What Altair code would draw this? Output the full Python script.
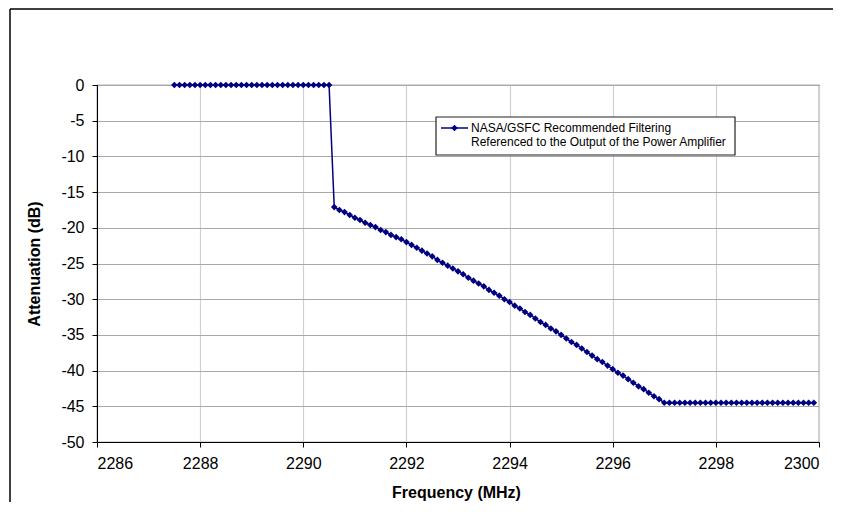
import altair as alt
import pandas as pd

# ---------------- data ----------------
FREQ_MHZ = [
    2287.5, 2287.6, 2287.7, 2287.8, 2287.9,
    2288.0, 2288.1, 2288.2, 2288.3, 2288.4, 2288.5, 2288.6, 2288.7, 2288.8, 2288.9,
    2289.0, 2289.1, 2289.2, 2289.3, 2289.4, 2289.5, 2289.6, 2289.7, 2289.8, 2289.9,
    2290.0, 2290.1, 2290.2, 2290.3, 2290.4, 2290.5, 2290.6, 2290.7, 2290.8, 2290.9,
    2291.0, 2291.1, 2291.2, 2291.3, 2291.4, 2291.5, 2291.6, 2291.7, 2291.8, 2291.9,
    2292.0, 2292.1, 2292.2, 2292.3, 2292.4, 2292.5, 2292.6, 2292.7, 2292.8, 2292.9,
    2293.0, 2293.1, 2293.2, 2293.3, 2293.4, 2293.5, 2293.6, 2293.7, 2293.8, 2293.9,
    2294.0, 2294.1, 2294.2, 2294.3, 2294.4, 2294.5, 2294.6, 2294.7, 2294.8, 2294.9,
    2295.0, 2295.1, 2295.2, 2295.3, 2295.4, 2295.5, 2295.6, 2295.7, 2295.8, 2295.9,
    2296.0, 2296.1, 2296.2, 2296.3, 2296.4, 2296.5, 2296.6, 2296.7, 2296.8, 2296.9,
    2297.0, 2297.1, 2297.2, 2297.3, 2297.4, 2297.5, 2297.6, 2297.7, 2297.8, 2297.9,
    2298.0, 2298.1, 2298.2, 2298.3, 2298.4, 2298.5, 2298.6, 2298.7, 2298.8, 2298.9,
    2299.0, 2299.1, 2299.2, 2299.3, 2299.4, 2299.5, 2299.6, 2299.7, 2299.8, 2299.9,
]

ATTENUATION_DB = [
    0.0, 0.0, 0.0, 0.0, 0.0,
    0.0, 0.0, 0.0, 0.0, 0.0, 0.0, 0.0, 0.0, 0.0, 0.0,
    0.0, 0.0, 0.0, 0.0, 0.0, 0.0, 0.0, 0.0, 0.0, 0.0,
    0.0, 0.0, 0.0, 0.0, 0.0, 0.0, -17.1, -17.5, -17.8, -18.2,
    -18.6, -18.9, -19.3, -19.6, -19.9, -20.3, -20.6, -21.0, -21.3, -21.6,
    -22.0, -22.4, -22.8, -23.2, -23.6, -24.0, -24.5, -24.9, -25.3, -25.7,
    -26.1, -26.5, -27.0, -27.4, -27.8, -28.2, -28.7, -29.1, -29.5, -30.0,
    -30.4, -30.9, -31.3, -31.8, -32.2, -32.7, -33.2, -33.6, -34.1, -34.5,
    -35.0, -35.5, -36.0, -36.4, -36.9, -37.4, -37.9, -38.4, -38.8, -39.3,
    -39.8, -40.3, -40.7, -41.2, -41.7, -42.2, -42.6, -43.1, -43.6, -44.0,
    -44.5, -44.5, -44.5, -44.5, -44.5, -44.5, -44.5, -44.5, -44.5, -44.5,
    -44.5, -44.5, -44.5, -44.5, -44.5, -44.5, -44.5, -44.5, -44.5, -44.5,
    -44.5, -44.5, -44.5, -44.5, -44.5, -44.5, -44.5, -44.5, -44.5, -44.5,
]

X_TICKS = [2286, 2288, 2290, 2292, 2294, 2296, 2298, 2300]
Y_TICKS = [-50, -45, -40, -35, -30, -25, -20, -15, -10, -5, 0]
X_DOMAIN = [2286, 2300]
Y_DOMAIN = [-50, 0]

X_TITLE = "Frequency (MHz)"
Y_TITLE = "Attenuation (dB)"
LEGEND_LINES = [
    "NASA/GSFC Recommended Filtering",
    "Referenced to the Output of the Power Amplifier",
]

assert len(FREQ_MHZ) == len(ATTENUATION_DB)

df = pd.DataFrame({"freq": FREQ_MHZ, "att": ATTENUATION_DB})
one = pd.DataFrame({"k": [0]})

FONT = "Liberation Sans"
NAVY = "#000080"

W, H = 722, 357

x_enc = alt.X(
    "freq:Q",
    scale=alt.Scale(domain=X_DOMAIN, nice=False, zero=False),
    axis=alt.Axis(
        values=X_TICKS,
        labelExpr="'' + datum.value",
        title=X_TITLE,
        grid=True,
        gridColor="#d0d0d0",
        gridWidth=1.2,
        domainColor="black",
        tickColor="black",
        tickSize=5,
        labelPadding=8,
        labelFontSize=16,
        labelOverlap=False,
        titleFontSize=16,
        titleFontWeight="bold",
        titleX=359,
        titleY=50,
        titleAlign="center",
        titleBaseline="middle",
    ),
)
y_enc = alt.Y(
    "att:Q",
    scale=alt.Scale(domain=Y_DOMAIN, nice=False, zero=False),
    axis=alt.Axis(
        values=Y_TICKS,
        labelExpr="'' + datum.value",
        title=Y_TITLE,
        grid=True,
        gridColor="#a8a8a8",
        gridWidth=1.2,
        domainColor="black",
        tickColor="black",
        tickSize=5,
        labelPadding=8,
        labelFontSize=16,
        labelOverlap=False,
        titleFontSize=16,
        titleFontWeight="bold",
        titleAngle=270,
        titleX=-63,
        titleY=H / 2,
        titleAlign="center",
        titleBaseline="middle",
    ),
)

line = alt.Chart(df).mark_line(color=NAVY, strokeWidth=1.5).encode(x=x_enc, y=y_enc)
pts = alt.Chart(df).mark_point(
    shape="diamond", filled=True, size=44, color=NAVY, opacity=1
).encode(x=x_enc, y=y_enc)

# outer chart border (top and left edges visible in the reference)
frame_top = alt.Chart(one).mark_rule(color="black", strokeWidth=1.5).encode(
    x=alt.value(-87), x2=alt.value(800), y=alt.value(-76)
)
frame_left = alt.Chart(one).mark_rule(color="black", strokeWidth=1.5).encode(
    x=alt.value(-87), y=alt.value(-76), y2=alt.value(520)
)

# legend box
leg_box = alt.Chart(one).mark_rect(
    fill="white", stroke="#222222", strokeWidth=1.2
).encode(
    x=alt.value(339), x2=alt.value(638), y=alt.value(32), y2=alt.value(70)
)
leg_rule = alt.Chart(one).mark_rule(color=NAVY, strokeWidth=1.5).encode(
    x=alt.value(344), x2=alt.value(371), y=alt.value(43)
)
leg_pt = alt.Chart(one).mark_point(
    shape="diamond", filled=True, size=44, color=NAVY, opacity=1
).encode(x=alt.value(357.5), y=alt.value(43))
leg_t1 = alt.Chart(one).mark_text(
    text=LEGEND_LINES[0], align="left", baseline="middle", font=FONT,
    fontSize=12, color="black"
).encode(x=alt.value(374), y=alt.value(43))
leg_t2 = alt.Chart(one).mark_text(
    text=LEGEND_LINES[1], align="left", baseline="middle", font=FONT,
    fontSize=12, color="black"
).encode(x=alt.value(374), y=alt.value(57))

chart = (
    alt.layer(line, pts, frame_top, frame_left, leg_box, leg_rule, leg_pt, leg_t1, leg_t2)
    .properties(
        width=W,
        height=H,
        autosize=alt.AutoSizeParams(type="none"),
        padding={"left": 89, "top": 77, "right": 14, "bottom": 60},
        background="white",
    )
    .configure_view(stroke="#666666", strokeWidth=1.2)
    .configure_axis(
        labelFont=FONT, titleFont=FONT, labelColor="black", titleColor="black"
    )
)

chart.save("out.html", embed_options={"renderer": "svg", "actions": False})
